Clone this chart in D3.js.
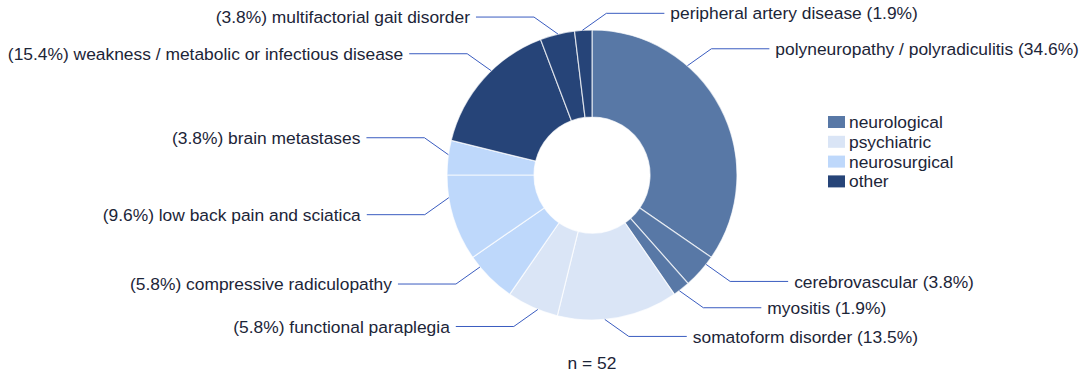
<!DOCTYPE html>
<html>
<head>
<meta charset="utf-8">
<style>
  body { margin: 0; background: #fff; }
  text { font-family: "Liberation Sans", Arial, sans-serif; fill: #1c2538; }
</style>
</head>
<body>
<script src="https://d3js.org/d3.v7.min.js"></script>
<script>
// diagnoses, clockwise from 12 o'clock
var names = ['polyneuropathy / polyradiculitis', 'cerebrovascular', 'myositis',
             'somatoform disorder', 'functional paraplegia',
             'compressive radiculopathy', 'low back pain and sciatica', 'brain metastases',
             'weakness / metabolic or infectious disease', 'multifactorial gait disorder',
             'peripheral artery disease'];
var counts = [18, 2, 1, 7, 3, 3, 5, 2, 8, 2, 1];
var groupOf = ['neurological', 'neurological', 'neurological',
               'psychiatric', 'psychiatric',
               'neurosurgical', 'neurosurgical', 'neurosurgical',
               'other', 'other', 'other'];
var groups = ['neurological', 'psychiatric', 'neurosurgical', 'other'];
var total = 52;

// where along each slice the leader line touches (0 = slice start, 1 = end)
var leaderAt = [0.33, 0.25, 0.65, 0.61, 0.39, 0.77, 0.74, 0.58, 0.58, 0.52, 0.45];
// which side each label sits on
var labelRight = [true, true, true, true, false, false, false, false, false, false, true];

var width = 1084, height = 373;
var cx = 592, cy = 175, R = 145, r0 = 58;
var fontSize = '17.4px';

var color = d3.scaleOrdinal()
    .domain(groups)
    .range(['#5878a6', '#dae5f6', '#bed8fb', '#264478']);

var svg = d3.select('body').append('svg')
    .attr('width', width)
    .attr('height', height);

var pie = d3.pie().sort(null).value(function(d) { return d; });
var arcs = pie(counts);

var arc = d3.arc().innerRadius(r0).outerRadius(R);

var g = svg.append('g').attr('transform', 'translate(' + cx + ',' + cy + ')');

g.selectAll('path.slice')
    .data(arcs)
  .enter().append('path')
    .attr('class', 'slice')
    .attr('d', arc)
    .attr('fill', function(d, i) { return color(groupOf[i]); })
    .attr('stroke', '#ffffff')
    .attr('stroke-opacity', 0.7)
    .attr('stroke-width', 1.2);

// leader lines + labels
var lineColor = '#3a5cc0';
arcs.forEach(function(d, i) {
    var a = d.startAngle + (d.endAngle - d.startAngle) * leaderAt[i];
    var p = d3.pointRadial(a, R);
    var right = labelRight[i];
    var up = p[1] < 0;
    var sx = right ? 1 : -1, sy = up ? -1 : 1;
    var e = [p[0] + sx * 24, p[1] + sy * 17];
    var h = [e[0] + sx * 58, e[1]];
    g.append('polyline')
        .attr('points', [p, e, h].map(function(q) { return q.join(','); }).join(' '))
        .attr('fill', 'none')
        .attr('stroke', lineColor)
        .attr('stroke-width', 1);
    var pct = '(' + (counts[i] / total * 100).toFixed(1) + '%)';
    g.append('text')
        .attr('x', h[0] + sx * 6)
        .attr('y', h[1])
        .attr('dy', '0.35em')
        .attr('text-anchor', right ? 'start' : 'end')
        .style('font-size', fontSize)
        .text(right ? names[i] + ' ' + pct : pct + ' ' + names[i]);
});

// legend
var legend = svg.append('g').attr('transform', 'translate(828,116)');
var row = legend.selectAll('g')
    .data(groups)
  .enter().append('g')
    .attr('transform', function(d, i) { return 'translate(0,' + (i * 19.8) + ')'; });
row.append('rect')
    .attr('width', 17).attr('height', 12)
    .attr('fill', function(d) { return color(d); });
row.append('text')
    .attr('x', 21).attr('y', 6).attr('dy', '0.35em')
    .style('font-size', fontSize)
    .text(function(d) { return d; });

svg.append('text')
    .attr('x', cx).attr('y', 363).attr('dy', '0.35em')
    .attr('text-anchor', 'middle')
    .style('font-size', fontSize)
    .text('n = ' + total);
</script>
</body>
</html>
